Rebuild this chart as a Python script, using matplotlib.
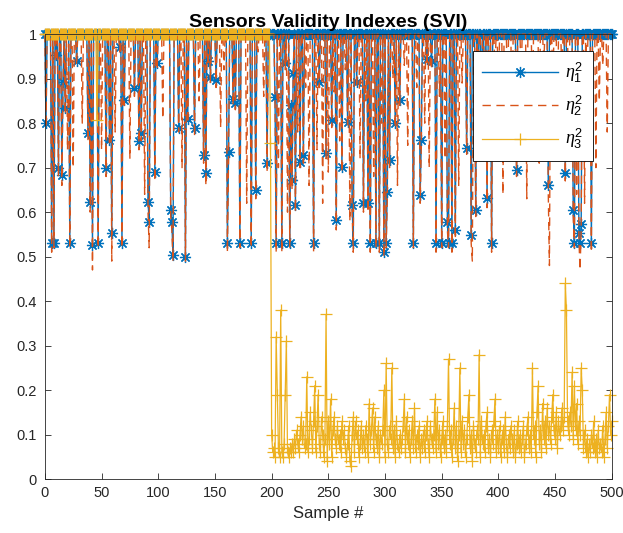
import numpy as np
import matplotlib.pyplot as plt

plt.rcParams['font.family'] = ['Liberation Sans', 'DejaVu Sans']
plt.rcParams['mathtext.fontset'] = 'custom'
plt.rcParams['mathtext.it'] = 'Liberation Serif:italic'
plt.rcParams['mathtext.rm'] = 'Liberation Sans'

# sample axis
n_samples = 501

# eta^2_1 : 1 everywhere except these samples
dip1_idx = [1, 6, 8, 10, 12, 15, 16, 18, 22, 28, 38, 40, 42, 47, 54, 57, 59, 66, 68, 70,
            79, 83, 85, 91, 92, 97, 99, 111, 112, 113, 118, 124, 126, 132, 140, 142, 144,
            146, 151, 161, 162, 166, 168, 172, 182, 186, 196,
            203, 204, 209, 212, 216, 217, 218, 219, 221, 225, 228, 237, 242, 248, 253, 257,
            262, 267, 271, 272, 275, 281, 285, 287, 292, 295, 299, 301, 302, 304, 309, 313,
            325, 331, 332, 337, 341, 345, 350, 355, 356, 359, 362, 372, 376, 380, 382, 385,
            388, 390, 394, 416, 444, 459, 466, 467, 471, 472, 473, 482]
dip1_val = [0.80, 0.53, 0.53, 0.953, 0.70, 0.683, 0.893, 0.833, 0.53, 0.94, 0.777, 0.623,
            0.526, 0.53, 0.70, 0.762, 0.552, 0.97, 0.53, 0.852,
            0.878, 0.76, 0.777, 0.623, 0.578, 0.69, 0.934, 0.605, 0.578, 0.503, 0.79, 0.50,
            0.81, 0.788, 0.728, 0.687, 0.94,
            0.904, 0.897, 0.53, 0.735, 0.855, 0.846, 0.53, 0.53, 0.65, 0.71,
            0.859, 0.53, 0.53, 0.934, 0.53, 0.84, 0.672, 0.912, 0.616, 0.713, 0.728, 0.53,
            0.893, 0.732, 0.807, 0.582,
            0.702, 0.803, 0.616, 0.53, 0.893, 0.62, 0.62, 0.53, 0.53, 0.53, 0.51, 0.53,
            0.646, 0.717, 0.80, 0.852,
            0.53, 0.638, 0.762, 0.945, 0.94, 0.53, 0.53, 0.578, 0.53, 0.53, 0.56, 0.743,
            0.548, 0.604, 0.912, 0.859,
            0.784, 0.631, 0.53, 0.694, 0.661, 0.687, 0.604, 0.53, 0.552, 0.53, 0.574, 0.53]

# eta^2_2 : 1 everywhere except these samples
dip2_idx = [1, 6, 8, 10, 12, 15, 16, 18, 20, 22, 25, 28, 33, 38, 40, 42, 47, 50, 54, 57,
            59, 62, 66, 68, 70, 75, 79, 83, 85, 88, 91, 92, 97, 99, 104, 111, 112, 113,
            118, 121, 124, 126, 132, 136, 140, 142, 144, 146, 151, 155, 158, 161, 162, 166,
            168, 172, 178, 182, 186, 188, 193, 196,
            203, 204, 206, 209, 212, 214, 216, 217, 218, 219, 221, 223, 225, 228, 230, 233,
            237, 240, 242, 245, 248, 250, 253, 255, 257, 260, 262, 265, 267, 269, 271, 272,
            275, 278, 281, 283, 285, 287, 290, 292, 295, 297, 299, 301, 302, 304, 307, 309,
            311, 313, 317, 320, 325, 328, 331, 332, 335, 337, 339, 341, 345, 348, 350, 353,
            355, 356, 359, 362, 365, 368, 372, 376, 377, 380, 382, 385, 388, 390, 392, 394,
            397, 400, 404, 408, 412, 416, 420, 425, 430, 436, 440, 444, 445, 448, 452, 456,
            459, 462, 466, 467, 469, 471, 472, 473, 476, 478, 482, 486, 489, 492, 496]
dip2_val = [0.79, 0.51, 0.52, 0.94, 0.68, 0.66, 0.88, 0.82, 0.74, 0.52, 0.70, 0.93, 0.80,
            0.76, 0.60, 0.47, 0.52, 0.74, 0.68, 0.75,
            0.49, 0.78, 0.96, 0.52, 0.84, 0.72, 0.86, 0.74, 0.76, 0.64, 0.60, 0.52, 0.67,
            0.92, 0.81, 0.59, 0.56, 0.49,
            0.78, 0.70, 0.49, 0.80, 0.77, 0.85, 0.71, 0.66, 0.93, 0.89, 0.88, 0.79, 0.92,
            0.51, 0.72, 0.84,
            0.83, 0.52, 0.62, 0.52, 0.63, 0.96, 0.86, 0.69,
            0.85, 0.51, 0.70, 0.51, 0.92, 0.60, 0.52, 0.82, 0.65, 0.90, 0.60, 0.78, 0.70,
            0.71, 0.88, 0.66,
            0.51, 0.74, 0.88, 0.62, 0.72, 0.69, 0.79, 0.87, 0.56, 0.76, 0.69, 0.92, 0.79,
            0.58, 0.60, 0.51,
            0.88, 0.72, 0.60, 0.85, 0.60, 0.51, 0.68, 0.52, 0.51, 0.80, 0.50, 0.52, 0.63,
            0.70, 0.90, 0.79,
            0.66, 0.84, 0.93, 0.75, 0.52, 0.88, 0.62, 0.75, 0.80, 0.93, 0.70, 0.92, 0.51,
            0.86, 0.52, 0.72,
            0.56, 0.52, 0.51, 0.54, 0.66, 0.89, 0.73, 0.53, 0.49, 0.59, 0.90, 0.84, 0.77,
            0.61, 0.82, 0.51,
            0.92, 0.78, 0.64, 0.87, 0.74, 0.68, 0.90, 0.63, 0.82, 0.71, 0.93, 0.64, 0.48,
            0.88, 0.76, 0.90,
            0.67, 0.80, 0.59, 0.52, 0.64, 0.54, 0.47, 0.56, 0.62, 0.88, 0.51, 0.70, 0.85,
            0.93, 0.78]

# eta^2_3 : 1 up to sample 198 (one dip at 46), 0.755 at 199, then low values from 200
eta3_head_dip_idx = [46]
eta3_head_dip_val = [0.807]
eta3_199 = 0.755
eta3_tail = [
    0.10, 0.06, 0.07, 0.05, 0.32, 0.19, 0.07, 0.05, 0.38, 0.06, 0.05, 0.08, 0.19, 0.31, 0.06, 0.05, 0.07, 0.06, 0.08, 0.06,
    0.09, 0.07, 0.11, 0.08, 0.06, 0.10, 0.14, 0.09, 0.12, 0.07, 0.08, 0.23, 0.06, 0.09, 0.15, 0.11, 0.07, 0.13, 0.21, 0.06,
    0.12, 0.19, 0.08, 0.06, 0.14, 0.10, 0.05, 0.09, 0.37, 0.04, 0.13, 0.08, 0.18, 0.05, 0.11, 0.14, 0.09, 0.07, 0.12, 0.08,
    0.10, 0.06, 0.13, 0.09, 0.11, 0.07, 0.05, 0.08, 0.12, 0.04, 0.03, 0.10, 0.14, 0.06, 0.13, 0.09, 0.11, 0.05, 0.08, 0.12,
    0.07, 0.10, 0.06, 0.12, 0.09, 0.05, 0.17, 0.08, 0.11, 0.16, 0.06, 0.14, 0.09, 0.07, 0.12, 0.05, 0.10, 0.08, 0.11, 0.20,
    0.05, 0.26, 0.08, 0.06, 0.12, 0.09, 0.25, 0.07, 0.11, 0.05, 0.13, 0.08, 0.06, 0.10, 0.07, 0.09, 0.12, 0.18, 0.06, 0.14,
    0.08, 0.11, 0.05, 0.09, 0.13, 0.07, 0.16, 0.06, 0.10, 0.08, 0.12, 0.05, 0.09, 0.07, 0.11, 0.06, 0.10, 0.13, 0.08, 0.05,
    0.12, 0.09, 0.07, 0.10, 0.18, 0.06, 0.15, 0.08, 0.11, 0.05, 0.09, 0.13, 0.07, 0.10, 0.06, 0.12, 0.27, 0.08, 0.11, 0.05,
    0.09, 0.16, 0.07, 0.12, 0.04, 0.10, 0.25, 0.06, 0.13, 0.08, 0.11, 0.05, 0.09, 0.14, 0.19, 0.07, 0.10, 0.04, 0.12, 0.08,
    0.06, 0.11, 0.09, 0.28, 0.05, 0.13, 0.08, 0.10, 0.06, 0.12, 0.15, 0.07, 0.09, 0.05, 0.11, 0.08, 0.13, 0.18, 0.06, 0.10,
    0.07, 0.12, 0.05, 0.09, 0.11, 0.06, 0.14, 0.08, 0.05, 0.10, 0.07, 0.12, 0.09, 0.06, 0.11, 0.05, 0.08, 0.13, 0.07, 0.10,
    0.06, 0.09, 0.12, 0.05, 0.08, 0.11, 0.14, 0.07, 0.10, 0.06, 0.25, 0.09, 0.12, 0.05, 0.15, 0.21, 0.08, 0.11, 0.06, 0.17,
    0.09, 0.13, 0.07, 0.16, 0.10, 0.12, 0.08, 0.14, 0.19, 0.11, 0.09, 0.15, 0.07, 0.13, 0.10, 0.12, 0.16, 0.11, 0.14, 0.44,
    0.38, 0.13, 0.10, 0.15, 0.12, 0.24, 0.09, 0.21, 0.11, 0.17, 0.08, 0.13, 0.10, 0.25, 0.20, 0.07, 0.11, 0.06, 0.09, 0.05,
    0.08, 0.06, 0.10, 0.07, 0.13, 0.06, 0.09, 0.05, 0.11, 0.07, 0.08, 0.06, 0.12, 0.05, 0.09, 0.15, 0.07, 0.12, 0.19, 0.10, 0.13]

# build series
x = np.arange(n_samples)
eta1 = np.ones(n_samples)
eta1[dip1_idx] = dip1_val
eta2 = np.ones(n_samples)
eta2[dip2_idx] = dip2_val
eta3 = np.ones(n_samples)
eta3[eta3_head_dip_idx] = eta3_head_dip_val
eta3[199] = eta3_199
eta3[200:] = eta3_tail

c1, c2, c3 = '#0072BD', '#D95319', '#EDB120'
asterisk = (8, 2, 0)

fig = plt.figure(figsize=(6.23, 5.33), dpi=100)
ax = fig.add_axes([0.072, 0.101, 0.910, 0.835])

ax.plot(x, eta1, '-', color=c1, lw=1.0, marker=asterisk, ms=8, mew=0.9, clip_on=False,
        label=r'$\eta_1^2$')
ax.plot(x, eta2, '--', color=c2, lw=1.0, dashes=(6, 4), clip_on=False, label=r'$\eta_2^2$')
ax.plot(x, eta3, '-', color=c3, lw=0.9, marker='+', ms=9, mew=0.9, clip_on=False,
        label=r'$\eta_3^2$')

ax.set_xlim(0, 500)
ax.set_ylim(0, 1)
ax.set_xticks(np.arange(0, 501, 50))
ax.set_yticks(np.arange(0, 1.01, 0.1))
ax.set_yticklabels(['0', '0.1', '0.2', '0.3', '0.4', '0.5', '0.6', '0.7', '0.8', '0.9', '1'])
ax.tick_params(direction='in', top=True, right=True, labelsize=10.5, length=4, width=0.6,
               colors='#262626')
ax.tick_params(axis='y', pad=6)
ax.tick_params(axis='x', pad=5)
for s in ax.spines.values():
    s.set_linewidth(0.6)
    s.set_color('#262626')

ax.set_xlabel('Sample #', fontsize=12, color='#262626')
ax.set_title('Sensors Validity Indexes (SVI)', fontsize=14, fontweight='bold', pad=5)

leg = ax.legend(loc='upper right', bbox_to_anchor=(0.966, 0.962), borderaxespad=0,
                fontsize=13, handlelength=4.2, fancybox=False, framealpha=1,
                edgecolor='black', labelspacing=0.5, borderpad=0.5, handletextpad=0.4)
leg.get_frame().set_linewidth(0.6)

fig.savefig('out.png', dpi=100)
